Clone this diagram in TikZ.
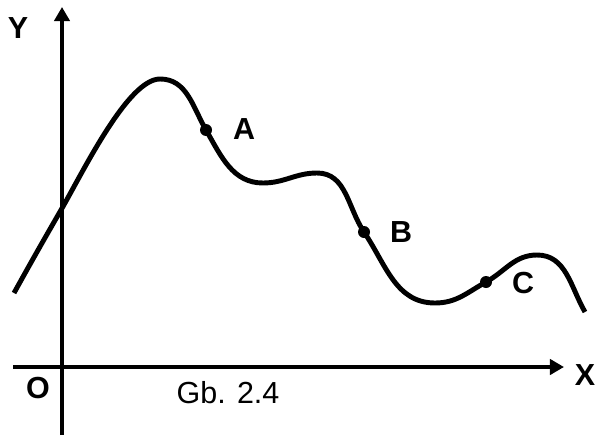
\documentclass[tikz,border=0pt]{standalone}
\usepackage{fontspec}
\setmainfont{Liberation Sans}
\usepackage{tikz}
\usetikzlibrary{arrows.meta}

\begin{document}
\begin{tikzpicture}[x=0.03cm,y=0.03cm,
    lbl/.style={font=\fontsize{26}{30}\selectfont\bfseries,inner sep=0pt},
    axis/.style={line width=3.3pt,-{Triangle[length=12pt,width=13pt]}}]
    \useasboundingbox (0,0) rectangle (596,436);
    % axes
    \coordinate (xs) at (13,69);  \coordinate (xe) at (564,69);
    \coordinate (ys) at (62,1);   \coordinate (ye) at (62,429);
    \draw[axis] (xs) -- (xe);
    \draw[axis] (ys) -- (ye);
    \node[lbl] (ylab) at (18,408) {Y};
    \node[lbl] (xlab) at (585,61) {X};
    \node[lbl] (olab) at (38,48) {O};
    \node[font=\fontsize{26}{30}\selectfont,inner sep=0pt] (cap) at (228,43) {Gb. 2.4};
    % curve
    \coordinate (p0) at (14,143);
    \coordinate (p1) at (61,226);
    \coordinate (p2) at (160,357);
    \coordinate (a) at (206,306);
    \coordinate (t) at (263,253);
    \coordinate (m) at (317,263);
    \coordinate (b) at (364,204);
    \coordinate (n) at (435,133);
    \coordinate (c) at (486,154);
    \coordinate (k) at (537,181);
    \coordinate (e) at (585,124);
    \draw[line width=4.2pt] (p0) to[out=61,in=240] (p1)
        to[out=60,in=180,out looseness=0.7,in looseness=0.5] (p2)
        to[out=0,in=120] (a) to[out=-60,in=180] (t) to[out=0,in=180] (m)
        to[out=0,in=124] (b) to[out=-56,in=180] (n) to[out=0,in=209] (c)
        to[out=29,in=180] (k) to[out=0,in=120] (e);
    \foreach \p in {a,b,c}{\fill[black] (\p) circle (6);}
    \node[lbl] (alab) at (244,307) {A};
    \node[lbl] (blab) at (401,204) {B};
    \node[lbl] (clab) at (523,153) {C};
\end{tikzpicture}
\end{document}
